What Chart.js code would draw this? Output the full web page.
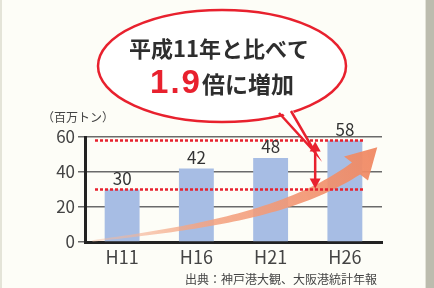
<!DOCTYPE html>
<html lang="ja">
<head>
<meta charset="utf-8">
<script src="https://cdn.jsdelivr.net/npm/chart.js@4"></script>
<style>
html, body { margin: 0; padding: 0; background: #fdfdf7; }
#wrap { position: relative; width: 434px; height: 288px; overflow: hidden; }
canvas { display: block; }
#edgeR { position: absolute; right: 0; top: 0; width: 8px; height: 288px; background: #bcbcae; border-left: 1px solid #e2e2d8; }
#edgeL { position: absolute; left: 0; top: 0; width: 2px; height: 288px; background: #e4e4d8; }
</style>
</head>
<body>
<div id="wrap">
  <canvas id="chart" width="434" height="288"></canvas>
  <div id="edgeL"></div>
  <div id="edgeR"></div>
</div>
<script>
// data (百万トン)
const years = ['H11', 'H16', 'H21', 'H26'];
const volumes = [30, 42, 48, 58];
const unitLabel = '（百万トン）';
const calloutLine1 = '平成11年と比べて';
const calloutRatio = '1.9';
const calloutRest = '倍に増加';
const sourceNote = '出典：神戸港大観、大阪港統計年報';

const FONT = '"Noto Sans CJK JP", "Noto Sans", sans-serif';
const RED = '#e8212e';

// orange "growth" arrow, bezier in data units (category index, value)
function drawGrowthArrow(ctx, x, y) {
    const P = [[-0.4, 0.6], [1.0, 8], [2.26, 16], [3.15, 42]]
        .map(p => [x.getPixelForValue(p[0]), y.getPixelForValue(p[1])]);
    const bez = (t, i) => {
        const u = 1 - t;
        return u*u*u*P[0][i] + 3*u*u*t*P[1][i] + 3*u*t*t*P[2][i] + t*t*t*P[3][i];
    };
    const der = (t, i) => {
        const u = 1 - t;
        return 3*u*u*(P[1][i]-P[0][i]) + 6*u*t*(P[2][i]-P[1][i]) + 3*t*t*(P[3][i]-P[2][i]);
    };
    const left = [], right = [];
    const N = 50;
    for (let k = 0; k <= N; k++) {
        const t = k / N;
        const px = bez(t, 0), py = bez(t, 1);
        let dx = der(t, 0), dy = der(t, 1);
        const len = Math.hypot(dx, dy); dx /= len; dy /= len;
        const w = 0.8 + 6.4 * Math.pow(t, 1.2);
        left.push([px - dy * w, py + dx * w]);
        right.push([px + dy * w, py - dx * w]);
    }
    // head
    let dx = der(1, 0), dy = der(1, 1);
    const len = Math.hypot(dx, dy); dx /= len; dy /= len;
    // turn a little steeper like the original
    const a = -0.18;
    const hx = dx * Math.cos(a) - dy * Math.sin(a), hy = dx * Math.sin(a) + dy * Math.cos(a);
    const bx = P[3][0], by = P[3][1];
    const tip = [bx + hx * 30, by + hy * 30];
    const c1 = [bx - hy * 17, by + hx * 17];
    const c2 = [bx + hy * 17, by - hx * 17];

    const grad = ctx.createLinearGradient(P[0][0], P[0][1], tip[0], tip[1]);
    grad.addColorStop(0, 'rgba(246,190,162,0.45)');
    grad.addColorStop(0.35, 'rgba(244,164,130,0.85)');
    grad.addColorStop(1, 'rgba(240,136,98,0.95)');

    ctx.save();
    ctx.fillStyle = grad;
    ctx.beginPath();
    ctx.moveTo(left[0][0], left[0][1]);
    left.forEach(p => ctx.lineTo(p[0], p[1]));
    ctx.lineTo(c1[0], c1[1]);
    ctx.lineTo(tip[0], tip[1]);
    ctx.lineTo(c2[0], c2[1]);
    right.slice().reverse().forEach(p => ctx.lineTo(p[0], p[1]));
    ctx.closePath();
    ctx.fill();
    ctx.restore();
}

function arrowHead(ctx, x0, yTip, dir) {
    ctx.beginPath();
    ctx.moveTo(x0, yTip);
    ctx.lineTo(x0 - 5.5, yTip + dir * 10);
    ctx.lineTo(x0 + 5.5, yTip + dir * 10);
    ctx.closePath();
    ctx.fill();
}

const decor = {
    id: 'decor',
    afterDatasetsDraw(chart) {
        const { ctx, chartArea, scales: { x, y } } = chart;

        drawGrowthArrow(ctx, x, y);

        // dotted reference lines at first and last value
        const lo = volumes[0], hi = volumes[volumes.length - 1];
        ctx.save();
        ctx.strokeStyle = RED;
        ctx.lineWidth = 2.5;
        ctx.setLineDash([3, 2]);
        [hi, lo].forEach(v => {
            const py = y.getPixelForValue(v);
            ctx.beginPath();
            ctx.moveTo(chartArea.left + 10, py);
            ctx.lineTo(chartArea.right - 17, py);
            ctx.stroke();
        });
        ctx.restore();

        // value labels
        ctx.save();
        ctx.fillStyle = '#333';
        ctx.font = '17px ' + FONT;
        ctx.textAlign = 'center';
        ctx.textBaseline = 'middle';
        chart.getDatasetMeta(0).data.forEach((bar, i) => {
            ctx.fillText(String(volumes[i]), bar.x, bar.y - 11);
        });
        ctx.restore();

        // double arrow between the two lines
        const ax = x.getPixelForValue(2.6);
        const yTop = y.getPixelForValue(hi) + 1, yBot = y.getPixelForValue(lo) - 1;
        ctx.save();
        ctx.strokeStyle = RED;
        ctx.fillStyle = RED;
        ctx.lineWidth = 2.5;
        ctx.beginPath();
        ctx.moveTo(ax, yTop + 8);
        ctx.lineTo(ax, yBot - 8);
        ctx.stroke();
        arrowHead(ctx, ax, yTop, 1);
        arrowHead(ctx, ax, yBot, -1);
        ctx.restore();
    },
    afterDraw(chart) {
        const { ctx, scales: { x, y } } = chart;
        const hi = volumes[volumes.length - 1];
        const tipX = x.getPixelForValue(2.6), tipY = y.getPixelForValue(hi) + 12;

        // callout bubble
        const cx = 222, cy = 66, rx = 124, ry = 56;
        ctx.save();
        ctx.lineWidth = 2.5;
        ctx.strokeStyle = RED;
        ctx.fillStyle = '#ffffff';
        ctx.beginPath();
        ctx.ellipse(cx, cy, rx, ry, 0, 0, Math.PI * 2);
        ctx.fill();
        ctx.stroke();
        const b1 = [279, 113], b2 = [291, 111];
        ctx.beginPath();
        ctx.moveTo(b1[0], b1[1] - 4);
        ctx.lineTo(tipX, tipY);
        ctx.lineTo(b2[0], b2[1] - 4);
        ctx.closePath();
        ctx.fill();
        ctx.beginPath();
        ctx.moveTo(b1[0], b1[1]);
        ctx.lineTo(tipX, tipY);
        ctx.lineTo(b2[0], b2[1]);
        ctx.stroke();

        ctx.textBaseline = 'middle';
        ctx.textAlign = 'center';
        ctx.fillStyle = '#2e2e2e';
        ctx.font = 'bold 22px ' + FONT;
        ctx.fillText(calloutLine1, 219, 49);

        // second line: big red ratio + text
        ctx.textAlign = 'left';
        ctx.textBaseline = 'alphabetic';
        ctx.font = 'bold 33px "Liberation Sans", Arial, sans-serif';
        ctx.letterSpacing = '2px';
        const w1 = ctx.measureText(calloutRatio).width;
        ctx.letterSpacing = '0px';
        ctx.font = 'bold 23px ' + FONT;
        const w2 = ctx.measureText(calloutRest).width;
        const sx = 222 - (w1 + w2) / 2;
        ctx.fillStyle = RED;
        ctx.font = 'bold 33px "Liberation Sans", Arial, sans-serif';
        ctx.letterSpacing = '2px';
        ctx.fillText(calloutRatio, sx, 93);
        ctx.letterSpacing = '0px';
        ctx.fillStyle = '#2e2e2e';
        ctx.font = 'bold 23px ' + FONT;
        ctx.fillText(calloutRest, sx + w1, 93);

        // unit and source
        ctx.textBaseline = 'middle';
        ctx.fillStyle = '#444';
        ctx.font = '12px ' + FONT;
        ctx.fillText(unitLabel, 42, 117);
        ctx.fillText(sourceNote, 185, 279);
        ctx.restore();
    }
};

new Chart(document.getElementById('chart'), {
    type: 'bar',
    data: {
        labels: years,
        datasets: [{
            data: volumes,
            backgroundColor: '#a7bde4',
            barPercentage: 0.47,
            categoryPercentage: 1
        }]
    },
    options: {
        responsive: false,
        animation: false,
        layout: { padding: { left: 45, right: 52, top: 137, bottom: 16 } },
        plugins: {
            legend: { display: false },
            tooltip: { enabled: false }
        },
        scales: {
            x: {
                grid: { display: false, drawTicks: false },
                border: { display: true, color: '#222', width: 3 },
                ticks: { color: '#444', font: { family: FONT, size: 18 }, padding: 4 },
                afterFit(s) { s.height = 30; }
            },
            y: {
                min: 0,
                max: 60,
                ticks: { stepSize: 20, color: '#444', font: { family: FONT, size: 17 }, padding: 3 },
                grid: { color: '#6a6a6a', lineWidth: 1.5, tickLength: 7 },
                border: { color: '#222', width: 3 },
                afterFit(s) { s.width = 40; }
            }
        }
    },
    plugins: [decor]
});
</script>
</body>
</html>
